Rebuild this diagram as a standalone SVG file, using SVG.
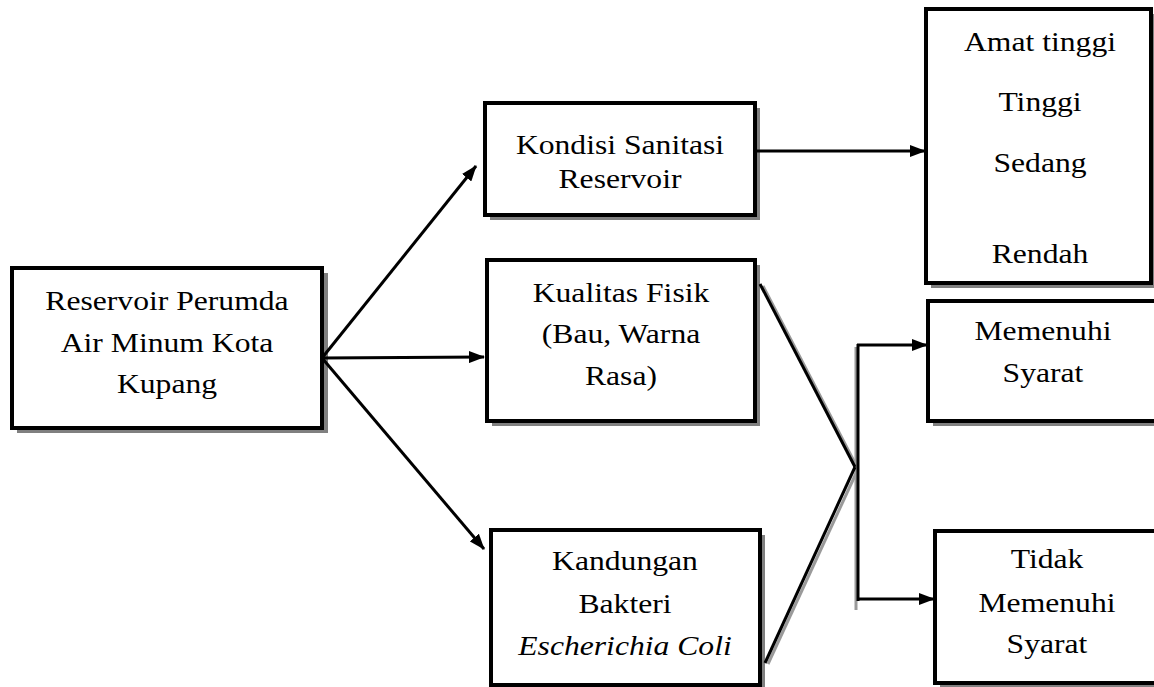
<svg xmlns="http://www.w3.org/2000/svg" width="1154" height="687" viewBox="0 0 1154 687">
<defs>
<marker id="ah" viewBox="0 0 16 12" refX="15" refY="6" markerWidth="16" markerHeight="12" markerUnits="userSpaceOnUse" orient="auto"><path d="M0,0 L16,6 L0,12 z" fill="#000"/></marker>
</defs>
<style>
.box{fill:#fff;stroke:#000;stroke-width:4}
.sh{fill:#808080}
.t{font-size:28px;fill:#000;text-anchor:middle}
.it{font-style:italic}
.ln{stroke:#000;stroke-width:3;fill:none}
.lsh{stroke:#9a9a9a;stroke-width:3;fill:none}
.ar{stroke:#000;stroke-width:3;fill:none;marker-end:url(#ah)}
</style>
<rect width="1154" height="687" fill="#fff"/>

<g font-family="'Liberation Serif', Tinos, 'Times New Roman', serif">
<g id="n-reservoir">
<rect class="sh" x="17" y="273" width="311" height="160"/>
<rect class="box" x="12" y="268" width="310" height="160"/>
<text class="t" transform="translate(167,310) scale(1.13,1)">Reservoir Perumda</text>
<text class="t" transform="translate(167,352) scale(1.13,1)">Air  Minum Kota</text>
<text class="t" transform="translate(167,393) scale(1.13,1)">Kupang</text>
</g>

<g id="n-kondisi">
<rect class="sh" x="490" y="108" width="270" height="112"/>
<rect class="box" x="485" y="103" width="270" height="112"/>
<text class="t" transform="translate(620,154) scale(1.13,1)">Kondisi Sanitasi</text>
<text class="t" transform="translate(620,188) scale(1.13,1)">Reservoir</text>
</g>

<g id="n-kategori">
<rect class="sh" x="931" y="14" width="225" height="274"/>
<rect class="box" x="926" y="9" width="225" height="274"/>
<text class="t" transform="translate(1040,51) scale(1.13,1)">Amat tinggi</text>
<text class="t" transform="translate(1040,111) scale(1.13,1)">Tinggi</text>
<text class="t" transform="translate(1040,172) scale(1.13,1)">Sedang</text>
<text class="t" transform="translate(1040,263) scale(1.13,1)">Rendah</text>
</g>

<g id="n-fisik">
<rect class="sh" x="492" y="265" width="268" height="161"/>
<rect class="box" x="487" y="260" width="268" height="161"/>
<text class="t" transform="translate(621,302) scale(1.13,1)">Kualitas Fisik</text>
<text class="t" transform="translate(621,343) scale(1.13,1)">(Bau, Warna</text>
<text class="t" transform="translate(621,385) scale(1.13,1)">Rasa)</text>
</g>

<g id="n-bakteri">
<rect class="sh" x="496" y="535" width="269" height="155"/>
<rect class="box" x="491" y="530" width="269" height="155"/>
<text class="t" transform="translate(625,570) scale(1.13,1)">Kandungan</text>
<text class="t" transform="translate(625,613) scale(1.13,1)">Bakteri</text>
<text class="t it" transform="translate(625,655) scale(1.13,1)">Escherichia Coli</text>
</g>

<g id="n-memenuhi">
<rect class="sh" x="933" y="306" width="240" height="120"/>
<rect class="box" x="928" y="301" width="240" height="120"/>
<text class="t" transform="translate(1043,340) scale(1.13,1)">Memenuhi</text>
<text class="t" transform="translate(1043,382) scale(1.13,1)">Syarat</text>
</g>

<g id="n-tidak">
<rect class="sh" x="940" y="536" width="240" height="152"/>
<rect class="box" x="935" y="531" width="240" height="152"/>
<text class="t" transform="translate(1047,568) scale(1.13,1)">Tidak</text>
<text class="t" transform="translate(1047,612) scale(1.13,1)">Memenuhi</text>
<text class="t" transform="translate(1047,653) scale(1.13,1)">Syarat</text>
</g>
</g>

<g id="connectors">
<line class="ar" x1="322" y1="358" x2="476" y2="166"/>
<line class="ar" x1="322" y1="358" x2="484" y2="357"/>
<line class="ar" x1="322" y1="358" x2="484" y2="549"/>
<line class="ar" x1="755" y1="151" x2="925" y2="151"/>
<line class="lsh" x1="763" y1="286" x2="858" y2="469"/>
<line class="lsh" x1="768" y1="664" x2="858" y2="469"/>
<line class="lsh" x1="856" y1="347" x2="856" y2="610"/>
<line class="ln" x1="760" y1="284" x2="855" y2="467"/>
<line class="ln" x1="765" y1="663" x2="855" y2="467"/>
<line class="ln" x1="858" y1="344" x2="858" y2="601"/>
<line class="ar" x1="857" y1="345" x2="927" y2="345"/>
<line class="ar" x1="857" y1="599" x2="934" y2="599"/>
</g>
</svg>
